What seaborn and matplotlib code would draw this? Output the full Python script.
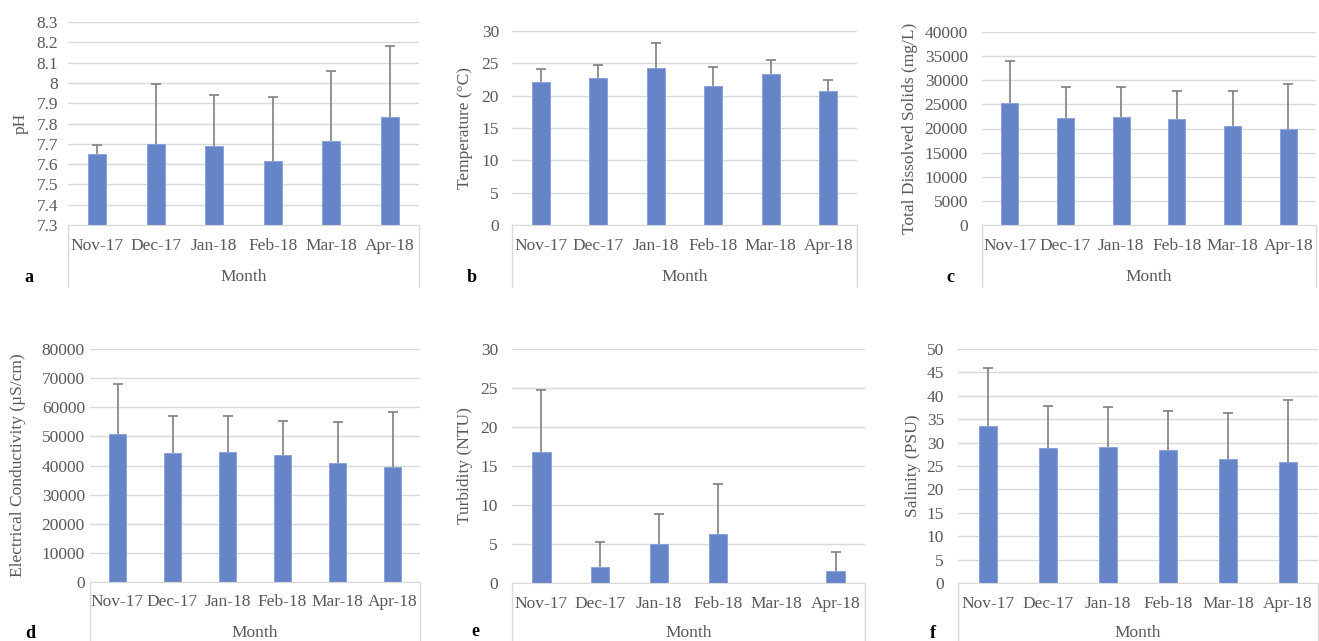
import numpy as np
import matplotlib
matplotlib.use('Agg')
import matplotlib.pyplot as plt
import pandas as pd
import seaborn as sns
from matplotlib.lines import Line2D
from matplotlib.ticker import FuncFormatter, MultipleLocator

sns.set_style('white')
plt.rcParams['font.family'] = ['Liberation Serif', 'DejaVu Serif']

months = ['Nov-17', 'Dec-17', 'Jan-18', 'Feb-18', 'Mar-18', 'Apr-18']

# means and upper error (sd)
ph_mean = [7.65, 7.70, 7.69, 7.615, 7.715, 7.83]
ph_sd = [0.045, 0.295, 0.25, 0.315, 0.345, 0.35]

temp_mean = [22.1, 22.8, 24.3, 21.5, 23.4, 20.7]
temp_sd = [2.1, 2.0, 3.8, 2.9, 2.1, 1.8]

tds_mean = [25300, 22100, 22300, 21900, 20500, 19900]
tds_sd = [8700, 6400, 6200, 5800, 7200, 9400]

ec_mean = [50700, 44200, 44700, 43700, 40800, 39600]
ec_sd = [17300, 12800, 12300, 11600, 14200, 18900]

turb_mean = [16.8, 2.0, 5.0, 6.3, 0.0, 1.5]
turb_sd = [7.9, 3.3, 3.8, 6.4, 0.0, 2.5]

sal_mean = [33.6, 28.9, 29.1, 28.5, 26.4, 25.8]
sal_sd = [12.4, 9.0, 8.6, 8.2, 10.0, 13.2]

W, H = 1319, 641
fig = plt.figure(figsize=(W / 100, H / 100), dpi=100)

BAR = '#6585c8'
TXT = '#595959'
GRID = '#d9d9d9'
ERR = '#7f7f7f'

# (mean, sd, ylabel, ylim, step, letter, box px [x0, y0, x1, y1], ylabel x px, ytick pad px, letter px, sep bottom px)
panels = [
    (ph_mean, ph_sd, 'pH', (7.3, 8.3), 0.1, 'a', (68, 22, 419, 225), 21, 10, (29, 278), 287),
    (temp_mean, temp_sd, 'Temperature (°C)', (0, 30), 5, 'b', (512, 31, 857, 225), 465, 13, (472, 278), 287),
    (tds_mean, tds_sd, 'Total Dissolved Solids (mg/L)', (0, 40000), 5000, 'c', (982, 32, 1316, 225), 910, 14, (950, 278), 287),
    (ec_mean, ec_sd, 'Electrical Conductivity (µS/cm)', (0, 80000), 10000, 'd', (90, 349, 420, 582), 18, 5, (30, 633), 645),
    (turb_mean, turb_sd, 'Turbidity (NTU)', (0, 30), 5, 'e', (512, 349, 865, 583), 465, 14, (475, 632), 645),
    (sal_mean, sal_sd, 'Salinity (PSU)', (0, 50), 5, 'f', (958, 349, 1318, 583), 913, 14, (933, 633), 645),
]

for mean, sd, ylab, ylim, step, letter, box, ylx, pad, lpos, sepb in panels:
    x0, y0, x1, y1 = box
    ax = fig.add_axes([x0 / W, 1 - y1 / H, (x1 - x0) / W, (y1 - y0) / H])
    df = pd.DataFrame({'Month': months, 'value': mean})
    sns.barplot(data=df, x='Month', y='value', color=BAR, width=0.31,
                saturation=1, errorbar=None, ax=ax, edgecolor='#8ba4d8', linewidth=0.7)

    # upper-only error bars: stem from the bar top, cap at the end
    m = np.array(mean)
    s = np.array(sd)
    keep = s > 0
    xs = np.arange(len(months))[keep]
    ax.vlines(xs, m[keep], m[keep] + s[keep], color=ERR, lw=1.2, zorder=3)
    ax.plot(xs, m[keep] + s[keep], ls='none', marker='_', ms=7, mew=1.2, color=ERR, zorder=3)

    ax.set_xlim(-0.5, 5.5)
    ax.set_ylim(*ylim)
    ax.yaxis.set_major_locator(MultipleLocator(step))
    ax.yaxis.set_major_formatter(FuncFormatter(lambda v, p: '%g' % round(v, 3)))
    ax.grid(axis='y', color=GRID, lw=1)
    ax.set_axisbelow(True)
    for sp in ['top', 'right', 'left']:
        ax.spines[sp].set_visible(False)
    ax.spines['bottom'].set_color(GRID)
    ax.tick_params(axis='both', length=0, labelsize=12.5, colors=TXT)
    ax.tick_params(axis='y', pad=pad * 0.72)
    ax.tick_params(axis='x', pad=9)

    ax.set_xlabel('Month', fontsize=12.5, color=TXT)
    ax.xaxis.set_label_coords(0.5, -(277 + (356 if sepb > 600 else 0) - y1) / (y1 - y0))
    ax.xaxis.label.set_va('center')
    ax.set_ylabel(ylab, fontsize=12.5, color=TXT)
    ax.yaxis.set_label_coords((ylx - x0) / (x1 - x0), 0.5)
    ax.yaxis.label.set_va('center')

    # category-axis box lines below the plot (Excel style)
    for xp in (x0, x1):
        fig.add_artist(Line2D([xp / W, xp / W], [1 - y1 / H, 1 - sepb / H], color=GRID, lw=1))

    fig.text(lpos[0] / W, 1 - lpos[1] / H, letter, fontsize=13, fontweight='bold',
             ha='center', va='center', color='black')

fig.savefig('out.png', dpi=100, facecolor='white')
